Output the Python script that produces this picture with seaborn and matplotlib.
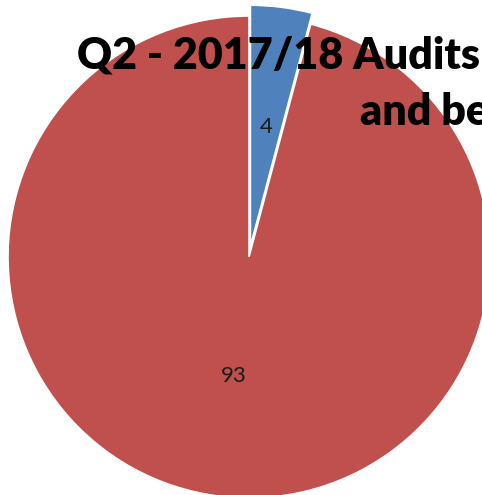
import matplotlib
matplotlib.use("Agg")
import matplotlib.pyplot as plt
import seaborn as sns

sns.set_style("white")
plt.rcParams["font.family"] = ["Lato", "DejaVu Sans"]

# Slice values and labels
categories = ["Completed", "Remaining"]
values = [4, 93]
colors = ["#4F81BD", "#C0504D"]
explode = [0.045, 0.0]

title_line1 = "Q2 - 2017/18 Audits"
title_line2 = "and be"

W, H = 482, 495
fig = plt.figure(figsize=(W / 100, H / 100), dpi=100)
ax = fig.add_axes([0, 0, 1, 1])

R = 241.0
cx, cy = 249.0, 257.0
wedges, texts = ax.pie(
    values,
    colors=colors,
    startangle=90,
    counterclock=False,
    explode=explode,
    labels=[str(v) for v in values],
    labeldistance=0.5,
    wedgeprops=dict(edgecolor="white", linewidth=1.2),
    textprops=dict(fontsize=16, color="#1a1a1a", ha="center", va="center"),
)
ax.set_xlim(-cx / R, (W - cx) / R)
ax.set_ylim(-(H - cy) / R, cy / R)
ax.set_aspect("auto")
ax.axis("off")

fig.text(77 / W, 1 - 68 / H, title_line1, fontsize=31, fontweight="heavy",
         ha="left", va="baseline", color="black")
fig.text(360 / W, 1 - 125 / H, title_line2, fontsize=31, fontweight="heavy",
         ha="left", va="baseline", color="black")

fig.savefig("out.png", dpi=100, facecolor="white")
